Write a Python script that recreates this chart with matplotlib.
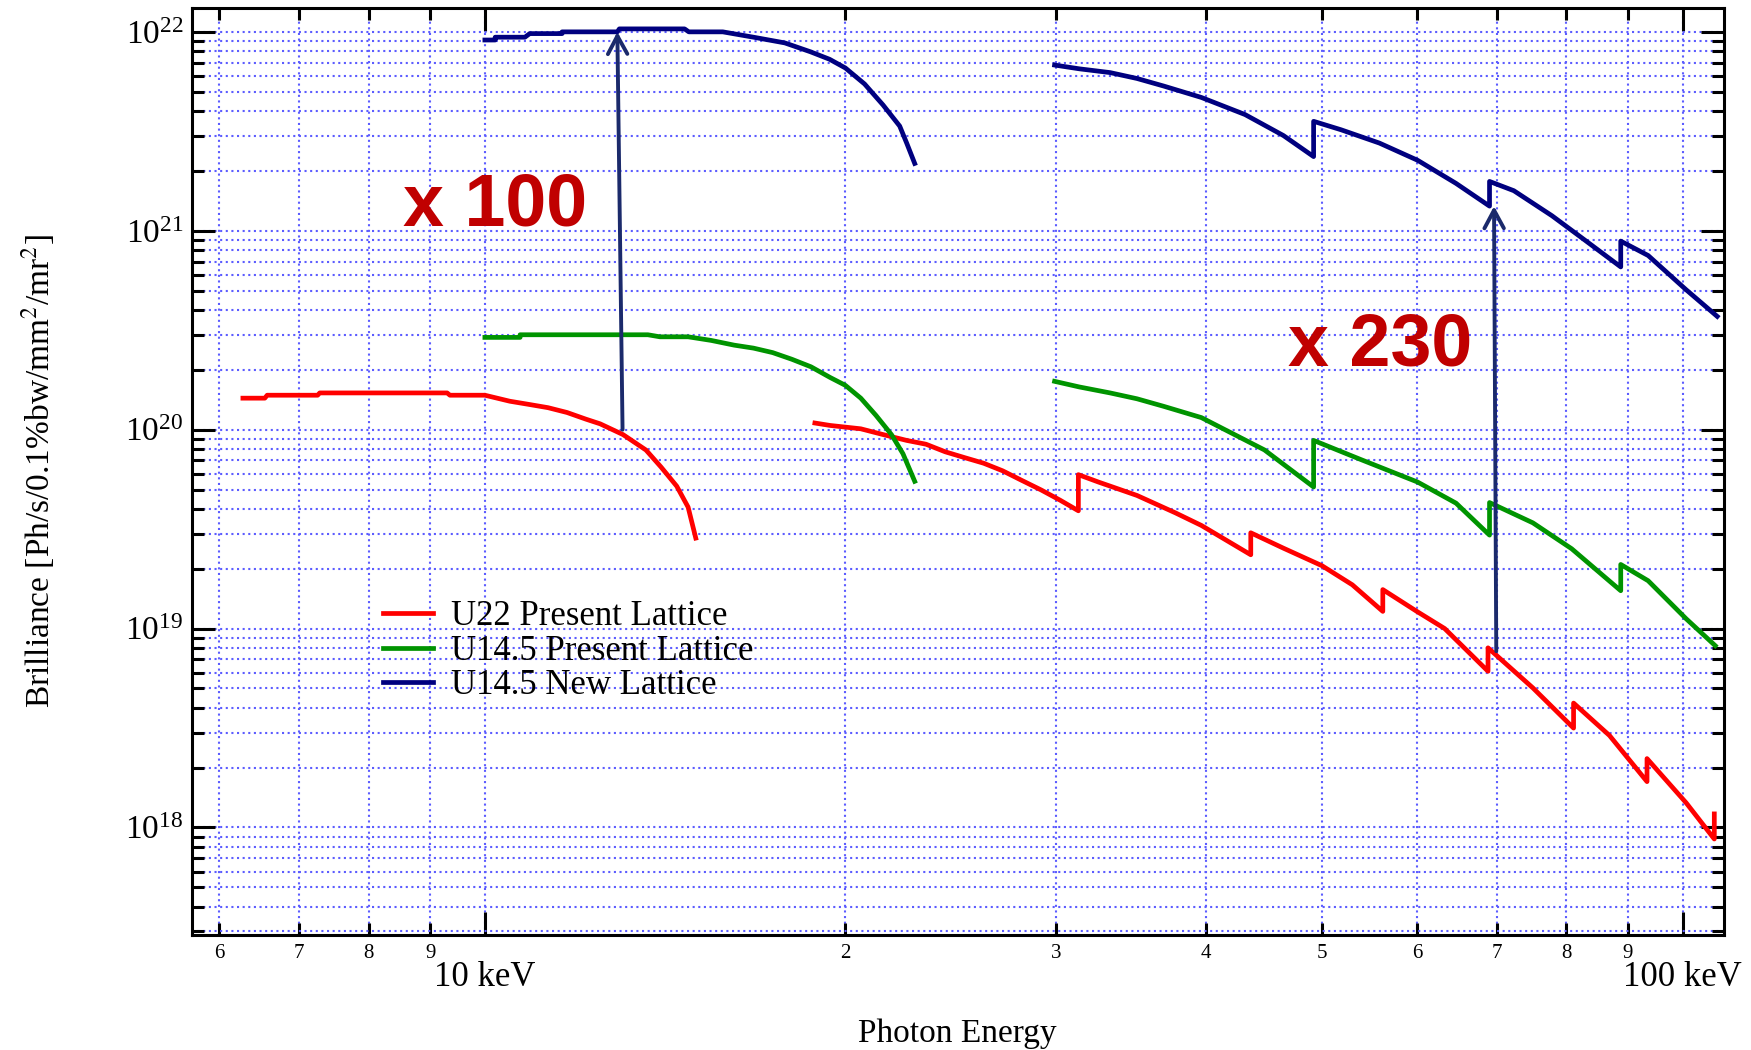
import numpy as np
import matplotlib
matplotlib.use("Agg")
import matplotlib.pyplot as plt
from matplotlib.ticker import LogLocator, FuncFormatter, NullFormatter, LogFormatterMathtext

plt.rcParams['font.family'] = ['Liberation Serif', 'DejaVu Serif']
plt.rcParams['mathtext.fontset'] = 'stix'

# U22 present lattice (photon energy keV, brilliance)
u22_e1 = [6.28, 6.55, 6.58, 7.25, 7.28, 9.30, 9.35, 10.0, 10.49, 10.88, 11.29, 11.71,
          12.14, 12.48, 13.04, 13.63, 14.03, 14.46, 14.78, 15.0]
u22_b1 = [1.44e20, 1.44e20, 1.49e20, 1.49e20, 1.53e20, 1.53e20, 1.49e20, 1.49e20, 1.39e20,
          1.34e20, 1.29e20, 1.22e20, 1.13e20, 1.07e20, 9.45e19, 7.9e19, 6.49e19, 5.2e19,
          4.08e19, 2.85e19]
u22_e2 = [18.86, 19.42, 20.6, 21.5, 22.5, 23.35, 24.23, 25.14, 26.09, 27.06, 28.07, 29.13,
          30.22, 31.3, 31.3, 32.54, 35.03, 37.71, 39.65, 43.6, 43.6, 46.4, 50.0, 53.0,
          56.2, 56.2, 60.0, 63.3, 68.8, 68.8, 75.0, 81.1, 81.1, 86.9, 93.4, 93.4, 100.7,
          106.3, 106.3]
u22_b2 = [1.08e20, 1.05e20, 1.01e20, 9.45e19, 8.83e19, 8.45e19, 7.74e19, 7.24e19, 6.78e19,
          6.21e19, 5.56e19, 4.98e19, 4.42e19, 3.91e19, 5.94e19, 5.45e19, 4.67e19, 3.82e19,
          3.30e19, 2.35e19, 3.03e19, 2.54e19, 2.07e19, 1.66e19, 1.22e19, 1.57e19, 1.22e19,
          1.0e19, 6.1e18, 8.0e18, 5.03e18, 3.16e18, 4.22e18, 2.9e18, 1.70e18, 2.22e18,
          1.33e18, 8.75e17, 1.17e18]

# U14.5 present lattice
u145p_e1 = [10.0, 10.7, 10.7, 13.68, 14.0, 14.78, 15.45, 16.15, 16.76, 17.39, 18.04, 18.72,
            19.42, 20.0, 20.6, 21.21, 21.85, 22.34, 22.85]
u145p_b1 = [2.91e20, 2.91e20, 3.0e20, 3.0e20, 2.93e20, 2.93e20, 2.81e20, 2.66e20, 2.57e20,
            2.44e20, 2.26e20, 2.07e20, 1.83e20, 1.67e20, 1.44e20, 1.18e20, 9.45e19, 7.57e19,
            5.5e19]
u145p_e2 = [29.9, 31.35, 33.27, 35.03, 36.88, 39.65, 44.76, 49.2, 49.2, 53.8, 60.1, 64.7,
            69.0, 69.0, 75.0, 80.8, 88.8, 88.8, 93.6, 100.7, 106.5]
u145p_b2 = [1.75e20, 1.64e20, 1.53e20, 1.43e20, 1.31e20, 1.15e20, 7.91e19, 5.15e19, 8.83e19,
            7.1e19, 5.45e19, 4.27e19, 2.95e19, 4.3e19, 3.4e19, 2.52e19, 1.55e19, 2.1e19,
            1.74e19, 1.12e19, 8.2e18]

# U14.5 new lattice
u145n_e1 = [10.0, 10.2, 10.2, 10.8, 10.9, 11.6, 11.6, 12.9, 12.95, 14.68, 14.8, 15.8, 16.76,
            17.8, 18.7, 19.4, 20.0, 20.75, 21.5, 22.2, 22.5, 22.85]
u145n_b1 = [9.1e21, 9.1e21, 9.4e21, 9.4e21, 9.8e21, 9.8e21, 1.0e22, 1.0e22, 1.035e22,
            1.035e22, 1.0e22, 1.0e22, 9.4e21, 8.8e21, 7.94e21, 7.28e21, 6.58e21, 5.47e21,
            4.29e21, 3.36e21, 2.76e21, 2.18e21]
u145n_e2 = [29.9, 31.35, 33.27, 35.03, 36.88, 39.65, 43.12, 46.43, 49.2, 49.2, 51.86, 55.83,
            60.1, 64.7, 69.0, 69.0, 72.3, 77.8, 82.5, 88.8, 88.8, 93.6, 100.7, 106.9]
u145n_b2 = [6.81e21, 6.52e21, 6.24e21, 5.83e21, 5.34e21, 4.68e21, 3.84e21, 3.01e21, 2.36e21,
            3.55e21, 3.22e21, 2.76e21, 2.26e21, 1.73e21, 1.33e21, 1.77e21, 1.59e21, 1.19e21,
            9.16e20, 6.58e20, 8.87e20, 7.51e20, 5.05e20, 3.71e20]

labels = ['U22 Present Lattice', 'U14.5 Present Lattice', 'U14.5 New Lattice']
colors = ['#ff0000', '#009400', '#00007f']

# gain arrows: (E start, B start, E end, B end)
arrow1 = (13.03, 1.0e20, 12.9, 1.0e22)
arrow2 = (69.9, 7.7e18, 69.6, 1.33e21)

fig = plt.figure(figsize=(17.51, 10.5), dpi=100)
ax = fig.add_axes([191.6 / 1751, (1050 - 934.7) / 1050, 1532.4 / 1751, 926.3 / 1050])
ax.set_xscale('log')
ax.set_yscale('log')

lw = 3.4
ax.plot(u22_e1, u22_b1, color=colors[0], lw=lw, label=labels[0])
ax.plot(u22_e2, u22_b2, color=colors[0], lw=lw)
ax.plot(u145p_e1, u145p_b1, color=colors[1], lw=lw, label=labels[1])
ax.plot(u145p_e2, u145p_b2, color=colors[1], lw=lw)
ax.plot(u145n_e1, u145n_b1, color=colors[2], lw=lw, label=labels[2])
ax.plot(u145n_e2, u145n_b2, color=colors[2], lw=lw)

arrow_color = '#1b2a6b'
for a in (arrow1, arrow2):
    ax.annotate('', xy=(a[2], a[3]), xytext=(a[0], a[1]),
                arrowprops=dict(arrowstyle='->,head_length=0.65,head_width=0.35',
                                color=arrow_color, lw=2.8, mutation_scale=20,
                                shrinkA=0, shrinkB=0))

ax.text(8.54, 1.06e21, 'x 100', family='Liberation Sans', fontweight='bold',
        fontsize=53, color='#c00000', ha='left', va='baseline')
ax.text(46.8, 2.1e20, 'x 230', family='Liberation Sans', fontweight='bold',
        fontsize=53, color='#c00000', ha='left', va='baseline')

ax.set_xlim(5.69, 108.3)
ax.set_ylim(2.89e17, 1.312e22)

ax.xaxis.set_major_locator(LogLocator(base=10))
ax.xaxis.set_minor_locator(LogLocator(base=10, subs=np.arange(2, 10)))
ax.xaxis.set_major_formatter(FuncFormatter(lambda v, p: f'{v:g} keV'))
ax.xaxis.set_minor_formatter(
    FuncFormatter(lambda v, p: f'{int(round(v / 10 ** np.floor(np.log10(v))))}'))
ax.yaxis.set_major_locator(LogLocator(base=10))
ax.yaxis.set_minor_locator(LogLocator(base=10, subs=np.arange(2, 10)))
ax.yaxis.set_major_formatter(LogFormatterMathtext())
ax.yaxis.set_minor_formatter(NullFormatter())

ax.tick_params(which='both', direction='in', top=True, right=True, width=2.2)
ax.tick_params(which='major', length=16.5)
ax.tick_params(which='minor', length=8.5)
ax.tick_params(axis='x', which='major', labelsize=25, pad=19)
ax.tick_params(axis='x', which='minor', labelsize=15, pad=7)
ax.tick_params(axis='y', which='major', labelsize=24, pad=6)
for s in ax.spines.values():
    s.set_linewidth(2.2)

ax.grid(True, which='both', color='#5c5cff', linestyle=(0, (1, 1.7)), lw=1.5)
ax.set_axisbelow(True)

ax.set_xlabel('Photon Energy', fontsize=24)
ax.set_ylabel('Brilliance [Ph/s/0.1%bw/mm$^2$/mr$^2$]', fontsize=24)
ax.xaxis.set_label_coords(0.5, -0.09)
ax.yaxis.set_label_coords(-0.088, 0.5)

ax.legend(loc='upper left', bbox_to_anchor=(0.125, 0.361), frameon=False, fontsize=25,
          borderpad=0, borderaxespad=0, handlelength=1.45, handletextpad=0.5,
          labelspacing=0.045)

fig.savefig('out.png', dpi=100)
